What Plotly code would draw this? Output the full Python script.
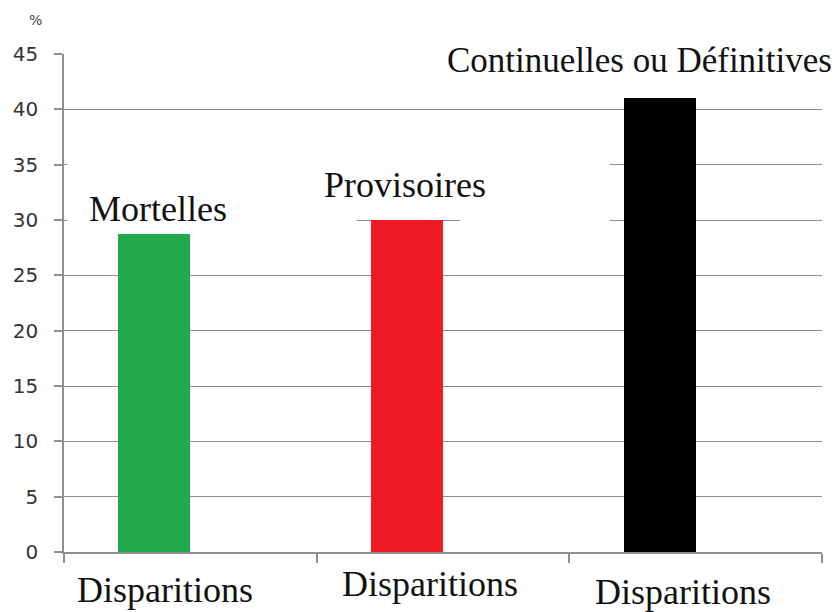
import plotly.graph_objects as go

categories = ["Mortelles", "Provisoires", "Continuelles ou Définitives"]
values = [28.7, 30, 41]
bar_colors = ["#22A94B", "#ED1C24", "#000000"]
bottom_labels = ["Disparitions", "Disparitions", "Disparitions"]
y_tick_values = [0, 5, 10, 15, 20, 25, 30, 35, 40, 45]
y_unit = "%"

GRID = "#8f8f8f"
SERIF = "Liberation Serif, Times New Roman, serif"

fig = go.Figure()
fig.add_trace(go.Bar(
    x=categories, y=values,
    marker=dict(color=bar_colors, line=dict(width=0)),
    width=0.285, offset=-0.285,
    showlegend=False, hoverinfo="skip",
))

# label positions (pixel shifts relative to category centre, paper y)
top_shift = [-32, -38, -56]
top_y = [0.688, 0.737, 0.986]
top_size = [36, 36, 35]
bot_shift = [-25, -13, -13]
bot_y = [-0.076, -0.064, -0.080]

annotations = []
for i, c in enumerate(categories):
    annotations.append(dict(
        x=c, xref="x", y=top_y[i], yref="paper", text=c, showarrow=False,
        xanchor="center", yanchor="middle", xshift=top_shift[i],
        font=dict(family=SERIF, size=top_size[i], color="#111111"),
    ))
    annotations.append(dict(
        x=c, xref="x", y=bot_y[i], yref="paper", text=bottom_labels[i], showarrow=False,
        xanchor="center", yanchor="middle", xshift=bot_shift[i],
        font=dict(family=SERIF, size=36, color="#111111"),
    ))
annotations.append(dict(
    x=-0.0375, xref="paper", y=1.068, yref="paper", text=y_unit, showarrow=False,
    xanchor="center", yanchor="middle",
    font=dict(family="DejaVu Sans", size=14, color="#444444"),
))

# white boxes behind the labels hiding parts of the gridlines (they do not overlap bars)
box = dict(type="rect", xref="paper", yref="paper", fillcolor="white",
           line=dict(width=0), layer="above")
shapes = [
    dict(box, x0=0.421, x1=1.01, y0=0.975, y1=1.05),
    dict(box, x0=0.004, x1=0.3865, y0=0.642, y1=0.822),
    dict(box, x0=0.3865, x1=0.72, y0=0.689, y1=0.822),
    dict(box, x0=0.5224, x1=0.72, y0=0.642, y1=0.691),
]

fig.update_layout(
    width=840, height=612,
    margin=dict(l=64, r=18, t=54, b=60),
    paper_bgcolor="white", plot_bgcolor="white",
    bargap=0,
    annotations=annotations,
    shapes=shapes,
    xaxis=dict(
        type="category", range=[-0.5, 2.5], showticklabels=False, showgrid=False, zeroline=False,
        showline=True, linecolor=GRID, linewidth=1.5,
        ticks="outside", tickson="boundaries", ticklen=9, tickcolor=GRID, tickwidth=1.5,
    ),
    yaxis=dict(
        range=[0, 45], tickvals=y_tick_values, showgrid=True, gridcolor=GRID, gridwidth=1.4,
        zeroline=False, showline=True, linecolor=GRID, linewidth=1.5,
        ticks="outside", ticklen=8, tickcolor=GRID, tickwidth=1.5,
        ticklabelstandoff=12,
        tickfont=dict(family="DejaVu Sans", size=20, color="#333333"),
    ),
)

fig.write_html(
    "out.html",
    config={"displayModeBar": False},
    post_script="document.body.style.margin='0';document.body.style.overflow='hidden';",
)
